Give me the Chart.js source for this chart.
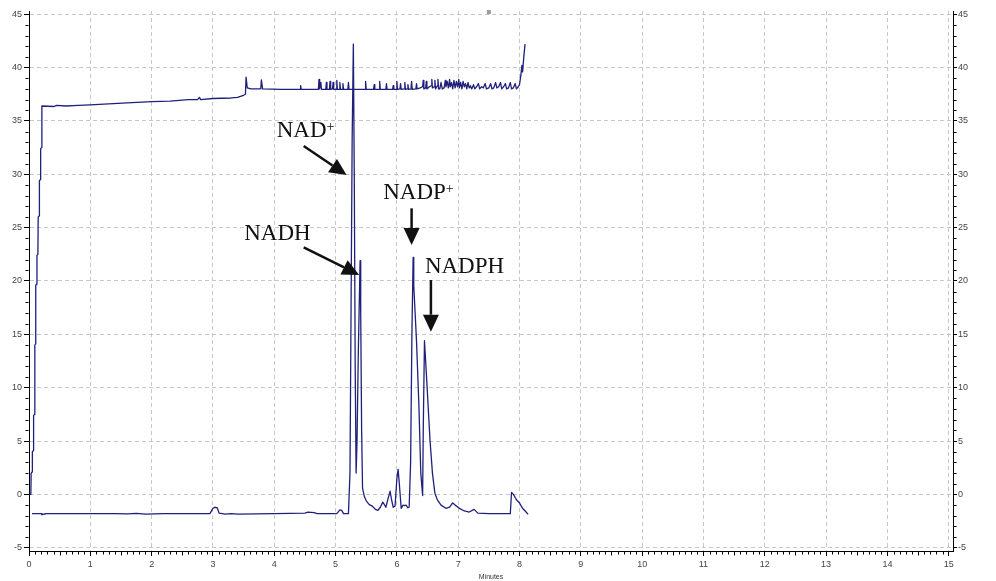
<!DOCTYPE html>
<html>
<head>
<meta charset="utf-8">
<script src="https://cdn.jsdelivr.net/npm/chart.js@4"></script>
<style>
  html, body { margin: 0; padding: 0; background: #fff; }
  #wrap { width: 996px; height: 581px; position: relative; }
</style>
</head>
<body>
<div id="wrap"><canvas id="chrom"></canvas></div>
<script>
// upper trace (pump / gradient channel), minutes and value
const upperTime = [
  0.00, 0.03, 0.035, 0.05, 0.055, 0.07, 0.075, 0.09, 0.095, 0.105, 0.11, 0.125, 0.13, 0.145,
  0.15, 0.165, 0.17, 0.185, 0.19, 0.205, 0.21, 0.40, 0.45, 0.60, 0.80, 1.00, 1.30, 1.60,
  2.00, 2.30, 2.60, 2.75, 2.78, 2.80, 3.00, 3.30, 3.40, 3.50, 3.53, 3.54, 3.56, 3.62,
  3.78, 3.79, 3.81, 4.10, 4.42, 4.43, 4.44, 4.72, 4.73, 4.74, 4.76, 4.77, 4.84, 4.85,
  4.86, 4.90, 4.91, 4.92, 4.95, 4.96, 4.97, 5.01, 5.02, 5.03, 5.06, 5.07, 5.08, 5.11,
  5.12, 5.13, 5.20, 5.21, 5.22, 5.48, 5.49, 5.50, 5.62, 5.63, 5.64, 5.71, 5.72, 5.73,
  5.82, 5.83, 5.84, 5.93, 5.94, 5.95, 5.99, 6.00, 6.01, 6.05, 6.06, 6.07, 6.12, 6.13,
  6.14, 6.17, 6.18, 6.19, 6.23, 6.24, 6.25, 6.31, 6.32, 6.33, 6.38, 6.42, 6.43, 6.44,
  6.47, 6.48, 6.49, 6.53, 6.56, 6.57, 6.58, 6.61, 6.62, 6.63, 6.66, 6.67, 6.68,
  6.70, 6.72, 6.74, 6.77, 6.79, 6.80, 6.82, 6.84, 6.86, 6.87, 6.89, 6.91, 6.93, 6.95,
  6.97, 6.99, 7.01, 7.02, 7.04, 7.06, 7.08, 7.10, 7.12, 7.14, 7.16, 7.18, 7.20, 7.22,
  7.25, 7.27, 7.30, 7.33, 7.35, 7.38, 7.41, 7.44, 7.46, 7.50, 7.53, 7.55, 7.58, 7.61,
  7.63, 7.66, 7.69, 7.71, 7.74, 7.77, 7.79, 7.82, 7.85, 7.87, 7.90, 7.93, 7.95, 7.98,
  8.00, 8.02, 8.04, 8.05, 8.07, 8.09
];
const upperValue = [
  0.0, 0.0, 2.0, 2.1, 4.0, 4.1, 7.4, 7.5, 14.0, 14.1, 19.6, 19.7, 22.4, 22.5,
  26.0, 26.1, 29.4, 29.5, 32.4, 32.5, 36.4, 36.35, 36.45, 36.4, 36.45, 36.5, 36.6, 36.7,
  36.8, 36.85, 37.0, 37.0, 37.2, 37.0, 37.1, 37.15, 37.2, 37.4, 37.5, 39.1, 38.1, 38.0,
  38.0, 38.85, 38.0, 37.95, 37.95, 38.3, 37.95, 37.95, 38.9, 38.0, 38.6, 37.95, 37.95, 38.6,
  37.95, 37.95, 38.7, 37.95, 38.0, 38.6, 37.95, 37.95, 38.8, 37.95, 37.95, 38.6, 37.95, 37.95,
  38.5, 37.95, 37.95, 38.6, 37.95, 37.95, 38.7, 37.95, 37.95, 38.4, 37.95, 37.95, 38.7, 37.95,
  37.95, 38.5, 37.95, 37.95, 38.3, 37.95, 37.95, 38.7, 37.95, 38.0, 38.5, 37.95, 38.0, 38.6,
  37.95, 38.0, 38.4, 37.95, 38.0, 38.7, 37.95, 38.0, 38.5, 38.0, 38.1, 38.2, 38.8, 38.0,
  38.1, 38.7, 38.0, 38.2, 38.3, 38.9, 38.1, 38.2, 38.8, 38.0, 38.3, 38.9, 38.0,
  38.0, 38.6, 38.0, 38.1, 38.8, 38.2, 38.7, 38.1, 38.9, 38.2, 38.6, 38.0, 38.8, 38.1,
  38.7, 38.2, 38.9, 38.1, 38.6, 38.0, 38.7, 38.2, 38.5, 38.0, 38.6, 38.1, 38.3, 38.0,
  38.4, 38.0, 38.2, 38.5, 38.0, 38.2, 38.1, 38.5, 38.0, 38.1, 38.5, 38.0, 38.1, 38.6,
  38.1, 38.2, 38.6, 38.0, 38.2, 38.5, 38.0, 38.1, 38.6, 38.0, 38.1, 38.5, 38.0, 38.2,
  38.4, 39.2, 40.2, 39.6, 41.0, 42.2
];

// detector trace with the four nucleotide peaks
const signalTime = [
  0.05, 0.20, 0.21, 0.25, 0.26, 1.40, 1.60, 1.75, 1.90, 2.20, 2.95, 3.00, 3.03, 3.07,
  3.10, 3.20, 3.30, 3.40, 4.00, 4.50, 4.55, 4.65, 4.70, 5.02, 5.07, 5.10, 5.13, 5.21,
  5.235, 5.25, 5.27, 5.29, 5.305, 5.32, 5.335, 5.35, 5.37, 5.40, 5.41, 5.425, 5.44, 5.47,
  5.50, 5.55, 5.60, 5.65, 5.69, 5.73, 5.77, 5.79, 5.82, 5.86, 5.89, 5.91, 5.94, 5.97,
  6.00, 6.02, 6.04, 6.07, 6.10, 6.12, 6.15, 6.18, 6.20, 6.224, 6.245, 6.265, 6.275, 6.32,
  6.36, 6.39, 6.42, 6.43, 6.45, 6.48, 6.54, 6.58, 6.62, 6.66, 6.72, 6.80, 6.86, 6.91,
  6.95, 7.02, 7.10, 7.18, 7.26, 7.32, 7.50, 7.85, 7.87, 7.90, 7.95, 8.00, 8.05, 8.10, 8.14
];
const signalValue = [
  -1.8, -1.8, -1.9, -1.85, -1.8, -1.8, -1.82, -1.78, -1.85, -1.8, -1.8, -1.3, -1.2, -1.25,
  -1.75, -1.85, -1.8, -1.85, -1.8, -1.75, -1.65, -1.7, -1.8, -1.8, -1.45, -1.5, -1.8, -1.8,
  2.0, 15.0, 33.0, 42.2, 30.0, 12.0, 2.0, 5.0, 13.0, 21.9, 17.0, 6.0, 0.6, -0.2,
  -0.6, -0.95, -1.1, -1.4, -1.5, -1.2, -0.72, -0.9, -1.2, -0.3, 0.3, -0.4, -1.2, -1.1,
  1.5, 2.35, 1.0, -1.3, -1.0, -1.05, -1.0, -1.25, -1.2, 3.0, 15.0, 22.2, 19.6, 14.4,
  8.2, 2.0, -0.1, 6.0, 14.4, 11.4, 5.1, 2.0, 0.1, -0.5, -1.0, -1.3, -1.2, -0.8,
  -1.0, -1.3, -1.55, -1.65, -1.4, -1.75, -1.8, -1.8, 0.2, 0.0, -0.5, -0.8, -1.3, -1.6, -1.87
];

const xTickValues = [0, 1, 2, 3, 4, 5, 6, 7, 8, 9, 10, 11, 12, 13, 14, 15];
const yTickValues = [-5, 0, 5, 10, 15, 20, 25, 30, 35, 40, 45];

// peak labels, placed in minutes / signal units
const peakNotes = [
  { text: 'NAD', sup: '+', at: [4.04, 33.47], from: [4.48, 32.65], to: [5.18, 29.93] },
  { text: 'NADH', sup: '', at: [3.51, 23.84], from: [4.48, 23.16], to: [5.386, 20.56] },
  { text: 'NADP', sup: '+', at: [5.777, 27.66], from: [6.24, 26.81], to: [6.24, 23.37] },
  { text: 'NADPH', sup: '', at: [6.457, 20.72], from: [6.555, 20.09], to: [6.555, 15.25] }
];

const lineColor = '#20207a';
const toPoints = (xs, ys) => xs.map((t, i) => ({ x: t, y: ys[i] }));

function drawArrow(ctx, x1, y1, x2, y2) {
  const ang = Math.atan2(y2 - y1, x2 - x1);
  const hl = 17, hw = 8;
  const bx = x2 - hl * Math.cos(ang), by = y2 - hl * Math.sin(ang);
  ctx.beginPath();
  ctx.moveTo(x1, y1);
  ctx.lineTo(bx, by);
  ctx.stroke();
  ctx.beginPath();
  ctx.moveTo(x2, y2);
  ctx.lineTo(bx + hw * Math.sin(ang), by - hw * Math.cos(ang));
  ctx.lineTo(bx - hw * Math.sin(ang), by + hw * Math.cos(ang));
  ctx.closePath();
  ctx.fill();
}

const extras = {
  id: 'extras',
  afterDraw(chart) {
    const { ctx, scales } = chart;
    const x = scales.x, y = scales.y, y2 = scales.y2;
    ctx.save();
    // minor ticks
    ctx.strokeStyle = '#000';
    ctx.lineWidth = 1;
    ctx.beginPath();
    const axisY = Math.round(x.top) + 0.5;
    for (let i = 0; i <= 150; i++) {
      if (i % 10 === 0) continue;
      const px = Math.round(x.getPixelForValue(i / 10)) + 0.5;
      const len = i % 5 === 0 ? 4 : 3;
      ctx.moveTo(px, axisY);
      ctx.lineTo(px, axisY + len);
    }
    const leftX = Math.round(y.right) - 0.5;
    const rightX = Math.round(y2.left) + 0.5;
    for (let v = -5; v <= 45; v++) {
      if (v % 5 === 0) continue;
      const py = Math.round(y.getPixelForValue(v)) + 0.5;
      ctx.moveTo(leftX, py);
      ctx.lineTo(leftX - 3, py);
      ctx.moveTo(rightX, py);
      ctx.lineTo(rightX + 3, py);
    }
    ctx.stroke();

    // small marker at the top
    ctx.fillStyle = '#9a9a9a';
    ctx.fillRect(x.getPixelForValue(7.5) - 2, y.getPixelForValue(45.2) - 2, 4, 4);

    // peak annotations
    ctx.fillStyle = '#111';
    ctx.strokeStyle = '#111';
    ctx.lineWidth = 2.5;
    ctx.textBaseline = 'alphabetic';
    ctx.textAlign = 'left';
    peakNotes.forEach(n => {
      const tx = x.getPixelForValue(n.at[0]);
      const ty = y.getPixelForValue(n.at[1]);
      ctx.font = '23px "Liberation Serif", "Times New Roman", serif';
      ctx.fillText(n.text, tx, ty);
      if (n.sup) {
        const w = ctx.measureText(n.text).width;
        ctx.font = '14px "Liberation Serif", "Times New Roman", serif';
        ctx.fillText(n.sup, tx + w, ty - 6);
      }
      drawArrow(ctx,
        x.getPixelForValue(n.from[0]), y.getPixelForValue(n.from[1]),
        x.getPixelForValue(n.to[0]), y.getPixelForValue(n.to[1]));
    });
    ctx.restore();
  }
};

const tickFont = { family: '"Liberation Sans", Arial, sans-serif', size: 9 };

new Chart(document.getElementById('chrom'), {
  type: 'scatter',
  data: {
    datasets: [
      {
        data: toPoints(upperTime, upperValue),
        showLine: true,
        borderColor: lineColor,
        borderWidth: 1.3,
        borderJoinStyle: 'round',
        pointRadius: 0,
        tension: 0
      },
      {
        data: toPoints(signalTime, signalValue),
        showLine: true,
        borderColor: lineColor,
        borderWidth: 1.3,
        borderJoinStyle: 'round',
        pointRadius: 0,
        tension: 0
      }
    ]
  },
  options: {
    responsive: true,
    maintainAspectRatio: false,
    animation: false,
    layout: { padding: { top: 11, left: 0, right: 0, bottom: 0 } },
    plugins: { legend: { display: false }, tooltip: { enabled: false } },
    scales: {
      x: {
        type: 'linear',
        position: 'bottom',
        min: 0,
        max: 15.07,
        afterBuildTicks: axis => { axis.ticks = xTickValues.map(v => ({ value: v })); },
        afterFit: axis => { axis.height = 30; },
        ticks: { font: tickFont, color: '#444', padding: 3, maxRotation: 0, autoSkip: false },
        grid: { color: '#c8c8c8', tickColor: '#000', tickLength: 5 },
        border: { color: '#000', width: 1, dash: [4, 3] },
        title: { display: true, text: 'Minutes', font: { family: '"Liberation Sans", Arial, sans-serif', size: 7 }, color: '#333', padding: { top: 0, bottom: 0 } }
      },
      y: {
        type: 'linear',
        position: 'left',
        min: -5.3,
        max: 45.3,
        afterBuildTicks: axis => { axis.ticks = yTickValues.map(v => ({ value: v })); },
        afterFit: axis => { axis.width = 29; },
        ticks: { font: tickFont, color: '#444', padding: 2, autoSkip: false },
        grid: { color: '#c8c8c8', tickColor: '#000', tickLength: 5 },
        border: { color: '#000', width: 1, dash: [4, 3] }
      },
      y2: {
        type: 'linear',
        position: 'right',
        min: -5.3,
        max: 45.3,
        afterBuildTicks: axis => { axis.ticks = yTickValues.map(v => ({ value: v })); },
        afterFit: axis => { axis.width = 43; },
        ticks: { font: tickFont, color: '#444', padding: 1, autoSkip: false },
        grid: { drawOnChartArea: false, tickColor: '#000', tickLength: 4 },
        border: { color: '#000', width: 1 }
      }
    }
  },
  plugins: [extras]
});
</script>
</body>
</html>
